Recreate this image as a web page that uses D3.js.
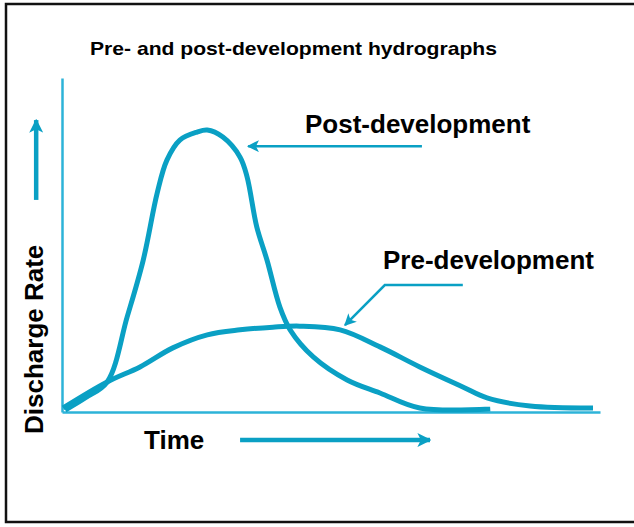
<!DOCTYPE html>
<html>
<head>
<meta charset="utf-8">
<script src="https://cdn.jsdelivr.net/npm/d3@7"></script>
<style>
  html, body { margin: 0; padding: 0; background: #fff; }
  svg { display: block; }
  text { font-family: "Liberation Sans", Arial, Helvetica, sans-serif; font-weight: bold; fill: #000; }
</style>
</head>
<body>
<svg id="chart" width="634" height="527"></svg>
<script>
// ---- data (time 0-100, discharge 0-100, arbitrary units) ----
const postTime      = [0.6, 4.3, 8.4, 12.1, 15.1, 17.7, 19.5, 21.9, 25.1, 27.0, 29.9, 33.1, 34.4, 36.2, 38.1, 40.5, 42.4, 46.7, 53.0, 59.1, 66.5, 79.6];
const postDischarge = [0.6, 4.2, 9.0, 28.4, 45.5, 65.6, 75.4, 81.4, 83.8, 84.4, 82.3, 76.3, 70.4, 55.4, 45.5, 31.4, 24.6, 16.5, 9.6, 5.7, 1.2, 0.9];
const preTime       = [0.2, 8.4, 14.5, 20.6, 27.0, 33.1, 39.2, 44.2, 51.7, 59.1, 66.5, 74.5, 79.0, 87.0, 98.7];
const preDischarge  = [1.2, 9.0, 13.5, 19.2, 23.1, 24.6, 25.4, 25.7, 24.6, 19.5, 13.5, 7.5, 4.2, 1.8, 1.2];

const title = "Pre- and post-development hydrographs";
const xLabel = "Time";
const yLabel = "Discharge Rate";
const postLabel = "Post-development";
const preLabel = "Pre-development";

// annotation anchors in data units
const postPointer = [[66.9, 79.6], [34.6, 79.6]];
const prePointer  = [[74.5, 38.0], [60.0, 38.0], [52.6, 26.0]];
const timeArrow   = [[33.1, -8.4], [68.4, -8.4]];
const rateArrow   = [[-4.8, 63.5], [-4.8, 87.4]];

// ---- drawing ----
const svg = d3.select("#chart");
const curveColor = "#0aa0c4";
const axisColor  = "#2db3d8";

const x = d3.scaleLinear().domain([0, 100]).range([62, 600]);
const y = d3.scaleLinear().domain([0, 100]).range([412, 78]);

// frame
svg.append("rect")
  .attr("x", 6).attr("y", 4).attr("width", 640).attr("height", 518)
  .attr("fill", "none").attr("stroke", "#111").attr("stroke-width", 2.5);

// markers
const defs = svg.append("defs");
function marker(id, color, w, h) {
  defs.append("marker")
    .attr("id", id).attr("viewBox", "0 0 10 10")
    .attr("refX", 9).attr("refY", 5)
    .attr("markerUnits", "userSpaceOnUse")
    .attr("markerWidth", w).attr("markerHeight", h)
    .attr("orient", "auto")
    .append("path").attr("d", "M0,0 L10,5 L0,10 L2.5,5 Z").attr("fill", color);
}
marker("headThin", curveColor, 14, 12);
marker("headThick", curveColor, 14, 14);

// axes (no ticks)
const xAxis = d3.axisBottom(x).tickValues([]).tickSizeOuter(0);
const yAxis = d3.axisLeft(y).tickValues([]).tickSizeOuter(0);
svg.append("g").attr("transform", `translate(0,${y(0)})`).call(xAxis)
  .select(".domain").attr("stroke", axisColor).attr("stroke-width", 2.5);
svg.append("g").attr("transform", `translate(${x(0)},0)`).call(yAxis)
  .select(".domain").attr("stroke", axisColor).attr("stroke-width", 2.5);

// curves
const line = d3.line().x(d => x(d[0])).y(d => y(d[1])).curve(d3.curveCatmullRom.alpha(0.5));
const post = postTime.map((t, i) => [t, postDischarge[i]]);
const pre  = preTime.map((t, i) => [t, preDischarge[i]]);

svg.append("path").datum(pre).attr("d", line)
  .attr("fill", "none").attr("stroke", curveColor).attr("stroke-width", 5).attr("stroke-linejoin", "round");
svg.append("path").datum(post).attr("d", line)
  .attr("fill", "none").attr("stroke", curveColor).attr("stroke-width", 5).attr("stroke-linejoin", "round");

// pointers
const straight = d3.line().x(d => x(d[0])).y(d => y(d[1]));
svg.append("path").datum(postPointer).attr("d", straight)
  .attr("fill", "none").attr("stroke", curveColor).attr("stroke-width", 2.5)
  .attr("marker-end", "url(#headThin)");
svg.append("path").datum(prePointer).attr("d", straight)
  .attr("fill", "none").attr("stroke", curveColor).attr("stroke-width", 2.5)
  .attr("marker-end", "url(#headThin)");
svg.append("path").datum(timeArrow).attr("d", straight)
  .attr("fill", "none").attr("stroke", curveColor).attr("stroke-width", 4.5)
  .attr("marker-end", "url(#headThick)");
svg.append("path").datum(rateArrow).attr("d", straight)
  .attr("fill", "none").attr("stroke", curveColor).attr("stroke-width", 4.5)
  .attr("marker-end", "url(#headThick)");

// texts
svg.append("text").attr("x", 90).attr("y", 55).attr("font-size", 19)
  .attr("textLength", 407).attr("lengthAdjust", "spacingAndGlyphs").text(title);
svg.append("text").attr("x", 305).attr("y", 133).attr("font-size", 26).text(postLabel);
svg.append("text").attr("x", 383).attr("y", 269).attr("font-size", 26).text(preLabel);
svg.append("text").attr("x", 144).attr("y", 449).attr("font-size", 26).text(xLabel);
svg.append("text").attr("transform", "translate(43,434) rotate(-90)").attr("font-size", 26).text(yLabel);
</script>
</body>
</html>
